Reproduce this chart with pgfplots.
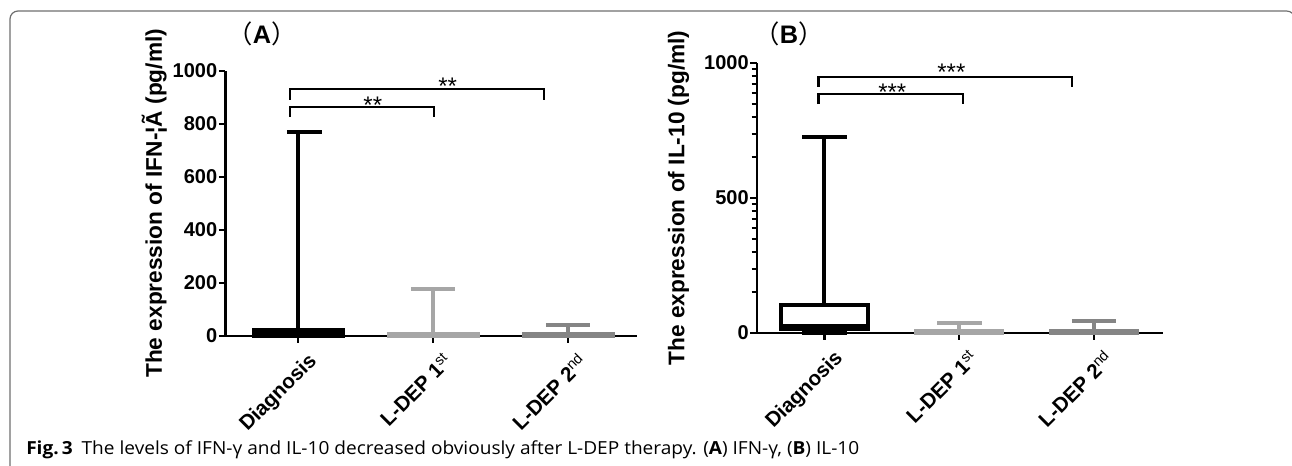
\documentclass[border=0pt]{standalone}
\usepackage{pgfplots}
\pgfplotsset{compat=1.18}
\usepackage{fontspec}
\setmainfont{Liberation Sans}
\newfontfamily\capfont[FakeStretch=1.06]{Open Sans}
\newfontfamily\cjk{Noto Sans CJK SC}
\definecolor{gA}{HTML}{A6A6A6}
\definecolor{gB}{HTML}{858585}
\definecolor{framegray}{HTML}{6E6E6E}

\tikzset{
  bx/.style={line width=3pt},
  br/.style={line width=1.6pt},
  st/.style={font=\fontsize{18}{20}\selectfont, anchor=base, inner sep=0pt},
}
\pgfplotsset{
  panel/.style={
    scale only axis, clip=false,
    axis lines*=left,
    axis line style={line width=2pt, -},
    ymin=0, ymax=1000,
    xtick={1,2,3},
    xticklabels={Diagnosis,{L-DEP 1\textsuperscript{\mdseries st}},{L-DEP 2\textsuperscript{\mdseries nd}}},
    tick align=outside,
    major tick length=5pt, minor tick length=4pt,
    tick style={black, line width=1.6pt},
    tick label style={font=\fontsize{15}{18}\selectfont\bfseries},
    xticklabel style={font=\fontsize{15.5}{18}\selectfont\bfseries, rotate=45, anchor=north east, inner sep=1pt, yshift=-8pt, xshift=1pt},
    yticklabel style={inner sep=1pt},
    /pgf/number format/assume math mode=true,
    /pgf/number format/1000 sep={},
    ylabel style={font=\fontsize{17}{20}\selectfont\bfseries, anchor=center},
    title style={font=\fontsize{19}{22}\selectfont\bfseries, anchor=center},
  },
}

\begin{document}
\begin{tikzpicture}
\useasboundingbox (0,0) rectangle (969pt,348.75pt);
\draw[framegray, line width=0.9pt, rounded corners=6pt]
  (7.5pt,-5pt) -- (7.5pt,340.5pt) -- (971pt,340.5pt) -- (971pt,-5pt);

% ---------- (A) IFN ----------
\begin{axis}[panel,
    at={(169.1pt,96.75pt)}, anchor=south west,
    width=308.6pt, height=199pt,
    xmin=0.46, xmax=3.51,
    ytick={0,200,...,1000},
    ylabel={The expression of IFN-¦Ã (pg/ml)},
    ylabel style={at={(axis description cs:-0.173,0.5)}},
    title={{\cjk\mdseries （}A{\cjk\mdseries ）}},
    title style={at={(axis description cs:0.089,1.108)}},
]
% Diagnosis: box 0-22, whisker to 770
\addplot[bx, mark=none, draw=black, fill=black] coordinates {(0.67,0) (1.33,0) (1.33,22) (0.67,22)} --cycle;
\addplot[bx, mark=none, black] coordinates {(1,22) (1,770)};
\addplot[bx, mark=none, black] coordinates {(0.916,770) (1.176,770)};
% L-DEP 1st: box 0-9, whisker to 177
\addplot[bx, mark=none, draw=gA, fill=gA] coordinates {(1.67,0) (2.33,0) (2.33,9) (1.67,9)} --cycle;
\addplot[bx, mark=none, gA] coordinates {(2,9) (2,177)};
\addplot[bx, mark=none, gA] coordinates {(1.835,177) (2.165,177)};
% L-DEP 2nd: box 0-8, whisker to 42
\addplot[bx, mark=none, draw=gB, fill=gB] coordinates {(2.67,0) (3.33,0) (3.33,8) (2.67,8)} --cycle;
\addplot[bx, mark=none, gB] coordinates {(3,8) (3,42)};
\addplot[bx, mark=none, gB] coordinates {(2.835,42) (3.165,42)};

\draw[br] (axis cs:0.939,827) -- (axis cs:0.939,864) -- (axis cs:2.005,864) -- (axis cs:2.005,827);
\draw[br] (axis cs:0.939,890) -- (axis cs:0.939,931) -- (axis cs:2.82,931) -- (axis cs:2.82,890);
\node[st] at (axis cs:1.552,837) {**};
\node[st] at (axis cs:2.107,912) {**};
\end{axis}

% ---------- (B) IL-10 ----------
\begin{axis}[panel,
    at={(567.75pt,99pt)}, anchor=south west,
    width=304.5pt, height=202.5pt,
    xmin=0.5, xmax=3.51,
    ytick={0,500,1000},
    minor ytick={150.5,238.6,301.0,349.5,389.1,422.5,451.5,477.1,
                 650.5,738.6,801.0,849.5,889.1,922.5,951.5,977.1},
    ylabel={The expression of IL-10 (pg/ml)},
    ylabel style={at={(axis description cs:-0.193,0.5)}},
    title={{\cjk\mdseries （}B{\cjk\mdseries ）}},
    title style={at={(axis description cs:0.079,1.078)}},
]
% Diagnosis: box 14-104, median 26, whiskers 1 and 727
\addplot[bx, mark=none, draw=black, fill=white] coordinates {(0.68,14) (1.32,14) (1.32,104) (0.68,104)} --cycle;
\addplot[bx, mark=none, black] coordinates {(0.68,26) (1.32,26)};
\addplot[bx, mark=none, black] coordinates {(1,104) (1,727)};
\addplot[bx, mark=none, black] coordinates {(0.835,727) (1.165,727)};
\addplot[bx, mark=none, black] coordinates {(1,14) (1,1)};
\addplot[bx, mark=none, black] coordinates {(0.835,1) (1.165,1)};
% L-DEP 1st: box 0-8, whisker to 38
\addplot[bx, mark=none, draw=gA, fill=gA] coordinates {(1.68,0) (2.32,0) (2.32,8) (1.68,8)} --cycle;
\addplot[bx, mark=none, gA] coordinates {(2,8) (2,38)};
\addplot[bx, mark=none, gA] coordinates {(1.835,38) (2.165,38)};
% L-DEP 2nd: box 0-8, whisker to 44
\addplot[bx, mark=none, draw=gB, fill=gB] coordinates {(2.68,0) (3.32,0) (3.32,8) (2.68,8)} --cycle;
\addplot[bx, mark=none, gB] coordinates {(3,8) (3,44)};
\addplot[bx, mark=none, gB] coordinates {(2.835,44) (3.165,44)};

\draw[br] (axis cs:0.956,848) -- (axis cs:0.956,885) -- (axis cs:2.025,885) -- (axis cs:2.025,848);
\draw[br] (axis cs:0.956,912) -- (axis cs:0.956,947) -- (axis cs:2.837,947) -- (axis cs:2.837,912);
\node[st] at (axis cs:1.503,860) {***};
\node[st] at (axis cs:1.941,934) {***};
\end{axis}

\node[anchor=base west, inner sep=0pt] at (19.5pt,8.25pt)
  {\capfont\fontsize{13.5}{16}\selectfont\textbf{Fig.\,3}\enspace The levels of IFN-γ and IL-10 decreased obviously after L-DEP therapy. (\textbf{A}) IFN-γ, (\textbf{B}) IL-10};
\end{tikzpicture}
\end{document}
